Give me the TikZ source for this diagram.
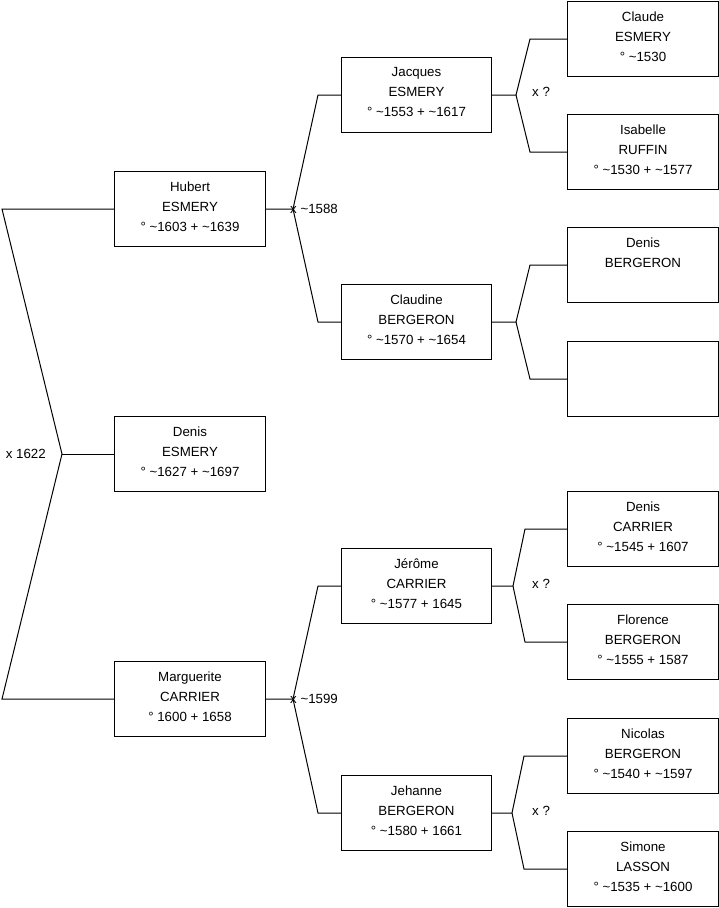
\documentclass[tikz,border=0pt]{standalone}
\usepackage{fontspec}
\setmainfont{Liberation Sans}
\usepackage{tikz}
\usetikzlibrary{positioning,calc}
\newcommand{\ca}{\textasciitilde}

\begin{document}
\begin{tikzpicture}[
    x=1pt, y=-1pt,
    person_box/.style={rectangle, draw=black, line width=1pt, minimum width=151pt, minimum height=75pt, inner sep=0pt, anchor=north west},
    mid_box/.style={person_box, minimum width=150pt},
    who_text/.style={anchor=north, align=center, yshift=-6.5pt, inner sep=4pt, font=\fontsize{13.3}{20}\selectfont},
    who/.style={label={[who_text]north:#1}},
    link/.style={draw=black, line width=1pt},
    wed/.style={inner sep=0pt, font=\fontsize{13.3}{16}\selectfont}
]
    \useasboundingbox (0,0) rectangle (719,908);

    % left column
    \node[person_box, who={Hubert\\ESMERY\\° \ca1603 + \ca1639}] (hubert) at (114,171) {};
    \node[person_box, who={Denis\\ESMERY\\° \ca1627 + \ca1697}] (denis) at (114,416) {};
    \node[person_box, who={Marguerite\\CARRIER\\° 1600 + 1658}] (marguerite) at (114,661) {};

    % parents
    \node[mid_box, who={Jacques\\ESMERY\\° \ca1553 + \ca1617}] (jacques) at (341,57) {};
    \node[mid_box, who={Claudine\\BERGERON\\° \ca1570 + \ca1654}] (claudine) at (341,284) {};
    \node[mid_box, who={Jérôme\\CARRIER\\° \ca1577 + 1645}] (jerome) at (341,548) {};
    \node[mid_box, who={Jehanne\\BERGERON\\° \ca1580 + 1661}] (jehanne) at (341,775) {};

    % grandparents
    \node[person_box, who={Claude\\ESMERY\\° \ca1530}] (claude) at (567,1) {};
    \node[person_box, who={Isabelle\\RUFFIN\\° \ca1530 + \ca1577}] (isabelle) at (567,114) {};
    \node[person_box, who={Denis\\BERGERON}] (denis_b) at (567,227) {};
    \node[person_box] (unknown) at (567,341) {};
    \node[person_box, who={Denis\\CARRIER\\° \ca1545 + 1607}] (denis_c) at (567,491) {};
    \node[person_box, who={Florence\\BERGERON\\° \ca1555 + 1587}] (florence) at (567,604) {};
    \node[person_box, who={Nicolas\\BERGERON\\° \ca1540 + \ca1597}] (nicolas) at (567,718) {};
    \node[person_box, who={Simone\\LASSON\\° \ca1535 + \ca1600}] (simone) at (567,831) {};

    % knots
    \coordinate (wed_top) at ([xshift=-112pt]hubert.west);
    \coordinate (wed_mid) at ([xshift=-52pt]denis.west);
    \coordinate (wed_bot) at ([xshift=-112pt]marguerite.west);
    \coordinate (knot_hubert) at ([xshift=27pt]hubert.east);
    \coordinate (knot_marguerite) at ([xshift=27pt]marguerite.east);
    \coordinate (knot_jacques) at ([xshift=24pt]jacques.east);
    \coordinate (knot_claudine) at ([xshift=24pt]claudine.east);
    \coordinate (knot_jerome) at ([xshift=21pt]jerome.east);
    \coordinate (knot_jehanne) at ([xshift=20pt]jehanne.east);

    \draw[link] (hubert.west) -- (wed_top) -- (wed_mid) -- (wed_bot) -- (marguerite.west);
    \draw[link] (wed_mid) -- (denis.west);

    \draw[link] (hubert.east) -- (knot_hubert) -- ([xshift=-23pt]jacques.west) -- (jacques.west);
    \draw[link] (knot_hubert) -- ([xshift=-23pt]claudine.west) -- (claudine.west);
    \draw[link] (marguerite.east) -- (knot_marguerite) -- ([xshift=-23pt]jerome.west) -- (jerome.west);
    \draw[link] (knot_marguerite) -- ([xshift=-23pt]jehanne.west) -- (jehanne.west);

    \draw[link] (jacques.east) -- (knot_jacques) -- ([xshift=-37pt]claude.west) -- (claude.west);
    \draw[link] (knot_jacques) -- ([xshift=-37pt]isabelle.west) -- (isabelle.west);
    \draw[link] (claudine.east) -- (knot_claudine) -- ([xshift=-37pt]denis_b.west) -- (denis_b.west);
    \draw[link] (knot_claudine) -- ([xshift=-37pt]unknown.west) -- (unknown.west);
    \draw[link] (jerome.east) -- (knot_jerome) -- ([xshift=-42pt]denis_c.west) -- (denis_c.west);
    \draw[link] (knot_jerome) -- ([xshift=-42pt]florence.west) -- (florence.west);
    \draw[link] (jehanne.east) -- (knot_jehanne) -- ([xshift=-43pt]nicolas.west) -- (nicolas.west);
    \draw[link] (knot_jehanne) -- ([xshift=-43pt]simone.west) -- (simone.west);

    % marriages
    \node[wed, anchor=east] (wed_denis) at ([xshift=-16pt]wed_mid) {x 1622};
    \node[wed, anchor=west] (wed_hubert) at ([xshift=-3pt]knot_hubert) {x \ca1588};
    \node[wed, anchor=west] (wed_marguerite) at ([xshift=-3pt]knot_marguerite) {x \ca1599};
    \node[wed, anchor=west] (wed_jacques) at ([xshift=16pt,yshift=3pt]knot_jacques) {x ?};
    \node[wed, anchor=west] (wed_jerome) at ([xshift=19pt,yshift=2.5pt]knot_jerome) {x ?};
    \node[wed, anchor=west] (wed_jehanne) at ([xshift=20pt,yshift=2pt]knot_jehanne) {x ?};
\end{tikzpicture}
\end{document}
